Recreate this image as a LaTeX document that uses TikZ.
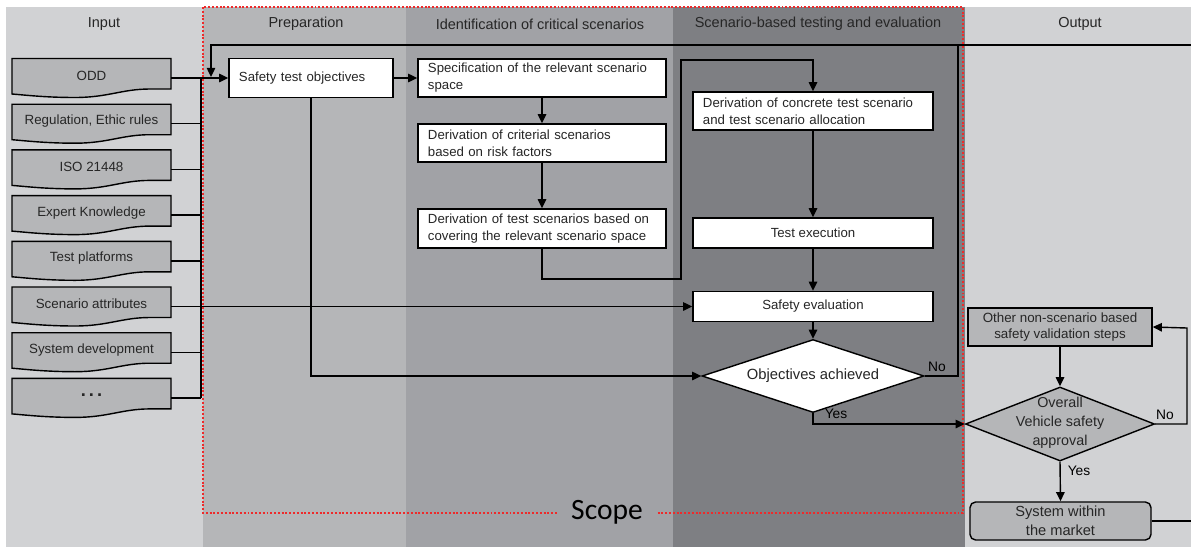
\documentclass[tikz,border=0pt]{standalone}
\usepackage{fontspec}
\setmainfont{Liberation Sans}
\newfontfamily\scopefont{Carlito}
\usetikzlibrary{arrows.meta,shapes.geometric}

\definecolor{laneIn}{HTML}{D1D2D4}
\definecolor{lanePrep}{HTML}{B5B6B8}
\definecolor{laneIdent}{HTML}{A1A2A6}
\definecolor{laneTest}{HTML}{7E7F83}
\definecolor{boxGrey}{HTML}{B5B6B8}
\definecolor{ink}{HTML}{262626}
\definecolor{scopeRed}{HTML}{EE2A2A}

\begin{document}
\begin{tikzpicture}[x=0.025cm,y=-0.025cm,
  wire/.style={draw=black, line width=1pt},
  arr/.style={wire, -{Triangle[length=6.5pt,width=6pt]}},
  head/.style={font=\fontsize{10.3}{12}\selectfont, text=ink, inner sep=0pt},
  stepbox/.style={draw=black, line width=1pt, fill=white, inner sep=0pt, text=ink,
    font=\fontsize{9.4}{12}\selectfont},
  stepL/.style={stepbox, align=left, inner xsep=0.25cm},
  stepC/.style={stepbox, align=center, minimum width=6cm, minimum height=0.75cm},
  greybox/.style={stepbox, fill=boxGrey, align=center},
  docnode/.style={inner sep=0pt, minimum width=3.975cm, minimum height=0.975cm},
  docline/.style={draw=black, line width=1pt, fill=boxGrey},
  doctext/.style={font=\fontsize{9.5}{12}\selectfont, text=ink, inner sep=0pt},
  yn/.style={font=\fontsize{9.8}{12}\selectfont, text=black, inner sep=0pt},
  scopeline/.style={draw=scopeRed, line width=1.5pt, dash pattern=on 1.4pt off 1.3pt},
]
\useasboundingbox (0,0) rectangle (1191,547);
\fill[white] (0,0) rectangle (1191,547);

% swim lanes
\fill[laneIn]    (6,7)   rectangle (203,547);
\fill[lanePrep]  (203,7) rectangle (406,547);
\fill[laneIdent] (406,7) rectangle (673,547);
\fill[laneTest]  (673,7) rectangle (965,547);
\fill[laneIn]    (965,7) rectangle (1191,547);

% lane headings
\node[head] (hIn)    at (104,24)  {Input};
\node[head] (hPrep)  at (306,24)  {Preparation};
\node[head] (hIdent) at (540,24)  {Identification of critical scenarios};
\node[head] (hTest)  at (818,24)  {Scenario-based testing and evaluation};
\node[head] (hOut)   at (1080,24) {Output};

% scope frame
\draw[scopeline] (203,7) rectangle (963,513);
\node[font=\scopefont\fontsize{21}{24}\selectfont, fill=laneIdent, inner xsep=10pt, inner ysep=1pt] (scope) at (607,512) {Scope};

% input documents
\foreach \i/\y/\t in {0/78/ODD, 1/123.7/{Regulation, Ethic rules}, 2/169.4/ISO 21448,
    3/215.1/Expert Knowledge, 4/260.8/Test platforms, 5/306.5/Scenario attributes,
    6/352.2/System development, 7/397.9/{\fontsize{13}{13}\selectfont\bfseries .\,.\,.}} {
  \node[docnode] (in\i) at (91.5,\y) {};
  \draw[docline] (12,{\y-19.5}) -- (171,{\y-19.5}) -- (171,{\y+11}) -- (150,{\y+11})
    .. controls (122,{\y+11}) and (108,{\y+19.5}) .. (75,{\y+19.5})
    .. controls (45,{\y+19.5}) and (25,{\y+17}) .. (12,{\y+16}) -- cycle;
  \node[doctext] (in\i t) at (91.5,{\y-2.5}) {\t};
}

% process steps
\node[stepL, text width=3.6cm, minimum height=0.975cm] (sto) at (311,78) {Safety test objectives};
\node[stepL, text width=5.7cm, minimum height=0.95cm] (spec) at (542,78)
  {Specification of the relevant scenario\\space};
\node[stepL, text width=5.7cm, minimum height=0.95cm] (crit) at (542,143)
  {Derivation of criterial scenarios\\based on risk factors};
\node[stepL, text width=5.7cm, minimum height=0.975cm] (tsc) at (542,228.5)
  {Derivation of test scenarios based on\\covering the relevant scenario space};
\node[stepL, text width=5.5cm, minimum height=0.95cm] (conc) at (813,111)
  {Derivation of concrete test scenario\\and test scenario allocation};
\node[stepC] (texe) at (813,233) {Test execution};
\node[stepC] (seval) at (813,306.5) {Safety evaluation};
\node[stepbox, diamond, aspect=3, minimum width=5.55cm, minimum height=1.825cm,
  font=\fontsize{10.5}{12}\selectfont] (obj) at (813,376) {Objectives achieved};

% output side
\node[greybox, minimum width=4.6cm, minimum height=0.95cm, font=\fontsize{9.5}{11.5}\selectfont]
  (other) at (1060,327) {Other non-scenario based\\safety validation steps};
\node[stepbox, diamond, fill=boxGrey, minimum width=4.725cm, minimum height=1.85cm] (overall) at (1060,424) {};
\node[align=center, inner sep=0pt, text=ink, font=\fontsize{10.2}{13.5}\selectfont]
  (ovtext) at (1060,423) {Overall\\Vehicle safety\\approval};
\node[greybox, rounded corners=4pt, minimum width=4.525cm, minimum height=0.95cm,
  font=\fontsize{10.4}{13.5}\selectfont] (market) at (1060.5,521) {System within\\the market};

% routing points
\coordinate (bus)   at (201,0);
\coordinate (jog)   at (681,279);
\coordinate (jogtop) at (681,60);
\coordinate (fbk)   at (958,45);
\coordinate (fbkl)  at (211,45);
\coordinate (fbkin) at (211,77);
\coordinate (noright) at (1187,328);
\coordinate (mkcorner) at (1205,45);

% inputs to the process
\draw[wire] (bus |- in0.east) -- (bus |- in7.east);
\foreach \i in {1,2,3,4,6,7} { \draw[wire] (in\i.east) -- (bus |- in\i.east); }
\draw[arr] (in0.east) -- (sto.west);
\draw[arr] (in5.east) -- (seval.west);

% main flow
\draw[arr] (sto.east) -- (spec.west);
\draw[arr] (spec.south) -- (crit.north);
\draw[arr] (crit.south) -- (tsc.north);
\draw[arr] (tsc.south) |- (jog) -- (jogtop) -| (conc.north);
\draw[arr] (conc.south) -- (texe.north);
\draw[arr] (texe.south) -- (seval.north);
\draw[arr] (seval.south) -- (obj.north);
\draw[arr] (sto.south) |- (obj.west);
\draw[arr] (obj.east) -| (fbk) -- (fbkl) -- (fbkin);
\draw[arr] (obj.south) |- (overall.west);
\node[yn] (yes1) at (836,414) {Yes};
\node[yn] (no1) at (937,367) {No};

% output flow
\draw[arr] (other.south) -- (overall.north);
\draw[arr] (overall.east) -| (noright) -- (other.east);
\draw[arr] (overall.south) -- (market.north);
\draw[wire] (market.east) -| (mkcorner) -- (fbk);
\node[yn] (no2) at (1165,415) {No};
\node[yn] (yes2) at (1079,471) {Yes};
\end{tikzpicture}
\end{document}
